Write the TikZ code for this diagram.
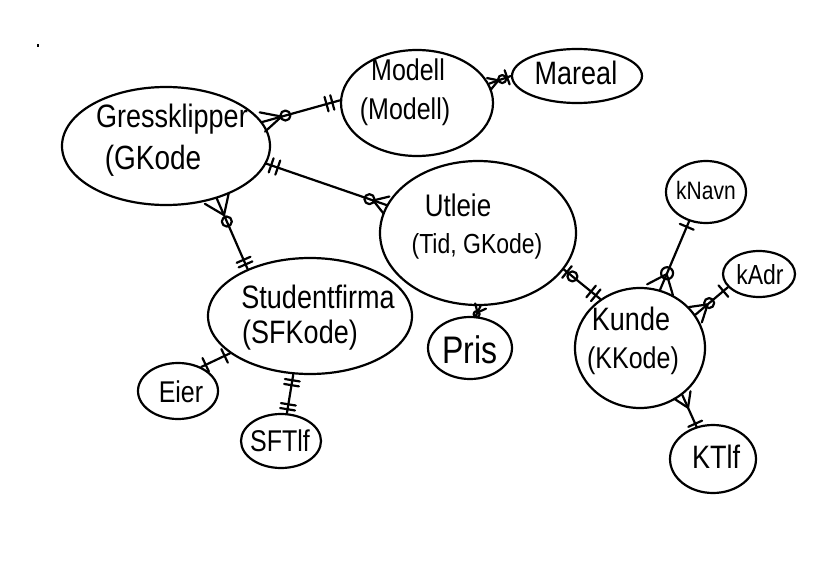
\documentclass[tikz,border=0pt]{standalone}
\usepackage{fontspec}
\usepackage{graphicx}
\setmainfont{Liberation Sans}
\usetikzlibrary{shapes.geometric,calc}
\tikzset{
  ent/.style={ellipse, draw, line width=2.2pt, inner sep=0pt},
  conn/.style={line width=2.2pt, line cap=round, line join=round},
  lab/.style={inner sep=0pt, font=\fontsize{#1}{#1}\selectfont},
  lab/.default=26
}
\newcommand\tallt[1]{\scalebox{1}[1.2]{#1}}
% crow's foot at end #1 of a connector towards #2: length #3, half spread #4
\newcommand\crowfoot[4]{%
  \coordinate (cfT) at ($(#1)!#3!(#2)$);
  \draw[conn] ($(#1)!#4!90:(#2)$) -- (cfT) -- ($(#1)!#4!-90:(#2)$);
}
% bar across the connector at distance #3 from end #1
\newcommand\barat[3]{%
  \coordinate (brC) at ($(#1)!#3!(#2)$);
  \draw[conn] ($(brC)!7.5pt!90:(#2)$) -- ($(brC)!7.5pt!-90:(#2)$);
}
% ring on the connector at distance #3 from end #1, radius #4
\newcommand\ringat[4]{%
  \coordinate (rgC) at ($(#1)!#3!(#2)$);
  \draw[conn] (rgC) circle[radius=#4];
}
\begin{document}
\begin{tikzpicture}[x=1pt,y=-1pt]
\path[use as bounding box] (0,0) rectangle (830,570);
\fill (37,44) rectangle (39,47);

% entities / attributes
\node[ent, minimum width=208pt, minimum height=118pt] (gk) at (166,146) {};
\node[ent, minimum width=152pt, minimum height=106pt] (modell) at (417,103) {};
\node[ent, minimum width=130pt, minimum height=54pt] (mareal) at (577,76) {};
\node[ent, minimum width=196pt, minimum height=144pt] (utleie) at (478,233) {};
\node[ent, minimum width=84pt, minimum height=62pt] (pris) at (470,348) {};
\node[ent, minimum width=204pt, minimum height=116pt] (sf) at (310,316) {};
\node[ent, minimum width=80pt, minimum height=56pt] (eier) at (178,391) {};
\node[ent, minimum width=80pt, minimum height=54pt] (sftlf) at (281,441) {};
\node[ent, minimum width=130pt, minimum height=120pt] (kunde) at (640,348) {};
\node[ent, minimum width=80pt, minimum height=62pt] (knavn) at (706,192) {};
\node[ent, minimum width=72pt, minimum height=46pt] (kadr) at (759,274) {};
\node[ent, minimum width=86pt, minimum height=68pt] (ktlf) at (713,459) {};

% labels
\node[lab=27] (gkt1) at (172,119) {\tallt{Gressklipper}};
\node[lab=28] (gkt2) at (153,161) {\tallt{(GKode}};
\node[lab=25] (mot1) at (408,70) {\tallt{Modell}};
\node[lab=25] (mot2) at (405,112) {\tallt{(Modell)}};
\node[lab=27] (mat) at (576,73) {\tallt{Mareal}};
\node[lab=26] (ut1) at (458,205) {\tallt{Utleie}};
\node[lab=23] (ut2) at (477,246) {\tallt{(Tid, GKode)}};
\node[lab=32] (prt) at (470,350) {\tallt{Pris}};
\node[lab=27] (sft1) at (318,297) {\tallt{Studentfirma}};
\node[lab=27] (sft2) at (300,335) {\tallt{(SFKode)}};
\node[lab=25] (eit) at (181,392) {\tallt{Eier}};
\node[lab=25] (stt) at (280,441) {\tallt{SFTlf}};
\node[lab=27] (kut1) at (631,319) {\tallt{Kunde}};
\node[lab=25] (kut2) at (633,361) {\tallt{(KKode)}};
\node[lab=21] (knt) at (706,190) {\tallt{kNavn}};
\node[lab=23] (kat) at (760,275) {\tallt{kAdr}};
\node[lab=27] (ktt) at (716,457) {\tallt{KTlf}};

% connector end points
\coordinate (c1a) at (gk.14);      \coordinate (c1b) at (modell.178);
\coordinate (c2a) at (gk.-10);     \coordinate (c2b) at (utleie.163);
\coordinate (c3a) at (gk.-46);     \coordinate (c3b) at (sf.143);
\coordinate (c4a) at (modell.15);  \coordinate (c4b) at (mareal.180);
\coordinate (c5a) at (utleie.-88); \coordinate (c5b) at (pris.80);
\coordinate (c6a) at (utleie.-23); \coordinate (c6b) at (kunde.129);
\coordinate (c7a) at (kunde.71);   \coordinate (c7b) at (knavn.-120);
\coordinate (c8a) at (kunde.31);   \coordinate (c8b) at (kadr.-157);
\coordinate (c9a) at (kunde.-48);  \coordinate (c9b) at (ktlf.117);
\coordinate (c10a) at (sf.-155);   \coordinate (c10b) at (eier.46);
\coordinate (c11a) at (sf.-106);   \coordinate (c11b) at (sftlf.78);

% connectors
\draw[conn] (c1a) -- (c1b);
\draw[conn] (c2a) -- (c2b);
\draw[conn] (c3a) -- (c3b);
\draw[conn] (c4a) -- (c4b);
\draw[conn] (c5a) -- (c5b);
\draw[conn] (c6a) -- (c6b);
\draw[conn] (c7a) -- (c7b);
\draw[conn] (c8a) -- (c8b);
\draw[conn] (c9a) -- (c9b);
\draw[conn] (c10a) -- (c10b);
\draw[conn] (c11a) -- (c11b);

% Gressklipper - Modell
\crowfoot{c1a}{c1b}{20pt}{10pt}
\ringat{c1a}{c1b}{24pt}{5pt}
\barat{c1b}{c1a}{8pt}
\barat{c1b}{c1a}{14pt}
% Gressklipper - Utleie
\barat{c2a}{c2b}{5pt}
\barat{c2a}{c2b}{12pt}
\crowfoot{c2b}{c2a}{14pt}{9pt}
\ringat{c2b}{c2a}{18pt}{5pt}
% Gressklipper - Studentfirma
\crowfoot{c3a}{c3b}{18pt}{13pt}
\ringat{c3a}{c3b}{25pt}{5pt}
\barat{c3b}{c3a}{5pt}
\barat{c3b}{c3a}{10pt}
% Modell - Mareal
\crowfoot{c4a}{c4b}{10pt}{6pt}
\ringat{c4a}{c4b}{14pt}{4pt}
\barat{c4b}{c4a}{4pt}
% Utleie - Pris
\crowfoot{c5a}{c5b}{7pt}{6pt}
\ringat{c5a}{c5b}{9pt}{3pt}
% Utleie - Kunde
\barat{c6a}{c6b}{4pt}
\ringat{c6a}{c6b}{11pt}{5pt}
\barat{c6b}{c6a}{6pt}
\barat{c6b}{c6a}{12pt}
% Kunde - kNavn
\crowfoot{c7a}{c7b}{17pt}{14pt}
\ringat{c7a}{c7b}{18pt}{6pt}
\barat{c7b}{c7a}{6pt}
% Kunde - kAdr
\crowfoot{c8a}{c8b}{16pt}{10pt}
\ringat{c8a}{c8b}{18pt}{5pt}
\barat{c8b}{c8a}{6pt}
% Kunde - KTlf
\crowfoot{c9a}{c9b}{14pt}{9pt}
\barat{c9b}{c9a}{3pt}
% Studentfirma - Eier
\barat{c10a}{c10b}{6pt}
\barat{c10b}{c10a}{5pt}
% Studentfirma - SFTlf
\barat{c11a}{c11b}{6pt}
\barat{c11a}{c11b}{11pt}
\barat{c11b}{c11a}{4pt}
\barat{c11b}{c11a}{9pt}
\end{tikzpicture}
\end{document}
